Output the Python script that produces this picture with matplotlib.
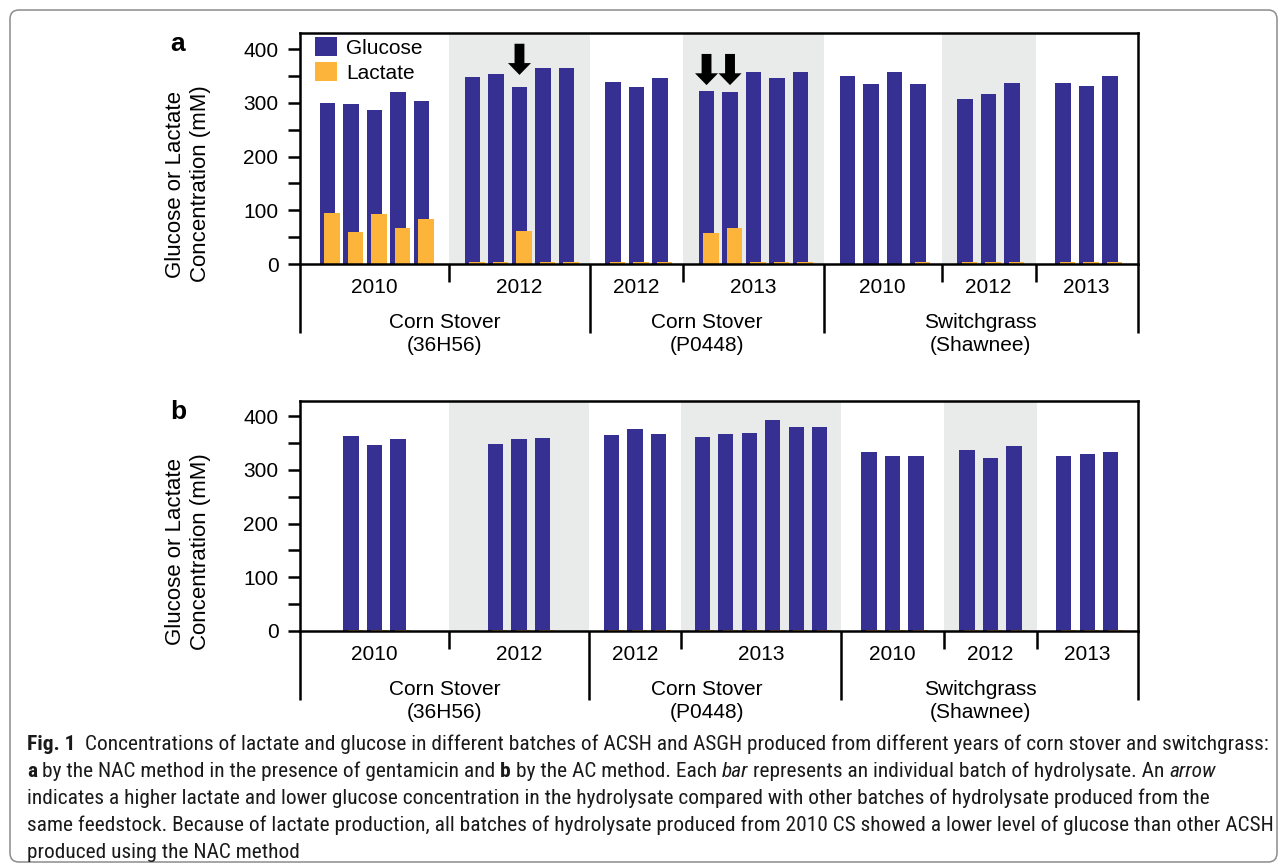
import matplotlib
matplotlib.use("Agg")
import matplotlib.pyplot as plt
import numpy as np
from matplotlib import font_manager as fm
from matplotlib.patches import FancyBboxPatch, FancyArrow
from matplotlib.transforms import blended_transform_factory, IdentityTransform
from matplotlib.lines import Line2D

# ---------------------------------------------------------------- data
year_labels = ["2010", "2012", "2012", "2013", "2010", "2012", "2013"]
feedstock_labels = ["Corn Stover\n(36H56)", "Corn Stover\n(P0448)", "Switchgrass\n(Shawnee)"]
years_per_feedstock = [2, 2, 3]

# (a) NAC method with gentamicin: batches per year group and concentrations (mM)
a_batches = [5, 5, 3, 5, 4, 3, 3]
a_glucose = [300, 297, 287, 320, 303,
             348, 353, 329, 365, 365,
             339, 329, 347,
             322, 320, 357, 346, 357,
             350, 335, 357, 335,
             307, 316, 337,
             337, 331, 350]
a_lactate = [95, 60, 93, 67, 84,
             3, 3, 61, 3, 3,
             4, 3, 3,
             58, 67, 3, 3, 3,
             0.5, 0.5, 0.5, 3,
             3, 3, 3,
             3, 3, 3]
a_arrow_batches = [7, 13, 14]

# (b) AC method
b_batches = [3, 3, 3, 6, 3, 3, 3]
b_glucose = [363, 346, 357,
             348, 357, 359,
             365, 376, 367,
             361, 367, 368, 393, 380, 380,
             333, 326, 326,
             337, 322, 344,
             326, 330, 333]
b_lactate = [2.5] * 24

# ---------------------------------------------------------------- style
W, H, DPI = 1285, 868, 100
GLUCOSE = "#363092"
LACTATE = "#FDB43A"
SHADE = "#E9EBEA"
LW = 1.8
FS = 15

plt.rcParams["font.family"] = ["Liberation Sans", "DejaVu Sans"]

fig = plt.figure(figsize=(W / DPI, H / DPI), dpi=DPI)


def fy(y):
    return 1 - y / H


# rounded frame around the whole figure
fig.patches.append(FancyBboxPatch((10, H - 862), 1267, 852,
                                  boxstyle="round,pad=0,rounding_size=9",
                                  transform=IdentityTransform(),
                                  fc="none", ec="#8c8c8c", lw=1.1))

AX_LEFT, AX_RIGHT = 300, 1137.5
REGIONS_A = [6.34, 6.0, 3.96, 6.0, 5.0, 4.0, 4.34]
REGIONS_B = [6.34, 5.96, 3.91, 6.81, 4.38, 3.96, 4.28]
bounds_a = np.concatenate([[0], np.cumsum(REGIONS_A)])


def draw_panel(top, base, ymax, batches, glucose, lactate, regions, letter):
    ax = fig.add_axes([AX_LEFT / W, fy(base), (AX_RIGHT - AX_LEFT) / W, (base - top) / H])
    bounds = np.concatenate([[0], np.cumsum(regions)])
    xmax = bounds[-1]
    ax.set_xlim(0, xmax)
    ax.set_ylim(0, ymax)
    h_px = base - top

    for i in (1, 3, 5):
        ax.axvspan(bounds[i], bounds[i + 1], color=SHADE, lw=0, zorder=0)

    xs = []
    for g, n in enumerate(batches):
        c = (bounds[g] + bounds[g + 1]) / 2
        xs.extend(c + (np.arange(n) - (n - 1) / 2))
    xs = np.array(xs)
    gb = ax.bar(xs, glucose, width=0.65, color=GLUCOSE, lw=0, zorder=2, label="Glucose")
    lb = ax.bar(xs + 0.19, lactate, width=0.65, color=LACTATE, lw=0, zorder=3, label="Lactate")

    for s in ax.spines.values():
        s.set_linewidth(LW)
        s.set_zorder(5)
    ax.set_xticks([])
    ax.set_yticks([0, 100, 200, 300, 400])
    ax.set_yticks([50, 150, 250, 350], minor=True)
    ax.tick_params(axis="y", which="both", direction="out", length=8.5, width=LW,
                   labelsize=FS, pad=7)

    # category band below the axis
    short = -18 / h_px
    long_ = -69 / h_px
    tr = ax.get_xaxis_transform()
    long_idx = set(np.cumsum(years_per_feedstock)[:-1])
    for k in range(1, len(bounds) - 1):
        y1 = long_ if k in long_idx else short
        ax.add_line(Line2D([bounds[k], bounds[k]], [0, y1], transform=tr,
                           color="black", lw=LW, clip_on=False, solid_capstyle="butt"))
    for xe in (0, xmax):
        ax.add_line(Line2D([xe, xe], [0, long_], transform=tr,
                           color="black", lw=LW, clip_on=False, solid_capstyle="butt"))

    ttr = blended_transform_factory(ax.transData, fig.transFigure)
    for g, lab in enumerate(year_labels):
        c = (bounds[g] + bounds[g + 1]) / 2
        fig.text(c, fy(base + 29), lab, transform=ttr, ha="center", va="baseline", fontsize=FS)
    # feedstock names sit at the same place in both panels
    edges = np.concatenate([[0], np.cumsum(years_per_feedstock)])
    for f, lab in enumerate(feedstock_labels):
        c = (bounds_a[edges[f]] + bounds_a[edges[f + 1]]) / 2
        l1, l2 = lab.split("\n")
        fig.text(c, fy(base + 64), l1, transform=ttr, ha="center", va="baseline", fontsize=FS)
        fig.text(c, fy(base + 87), l2, transform=ttr, ha="center", va="baseline", fontsize=FS)

    fig.text(188 / W, fy(top + (base + 69 - top) / 2 + 1),
             "Glucose or Lactate\nConcentration (mM)", rotation=90,
             ha="center", va="center", fontsize=16, linespacing=1.22)
    fig.text(170 / W, fy(top + 18), letter, fontsize=19, fontweight="bold",
             ha="left", va="baseline")
    return ax, xs, gb, lb


ax_a, xs_a, gb, lb = draw_panel(33, 264, 430, a_batches, a_glucose, a_lactate, REGIONS_A, "a")
ax_b, xs_b, _, _ = draw_panel(401, 631, 428, b_batches, b_glucose, b_lactate, REGIONS_B, "b")

ax_a.legend(handles=[gb, lb], loc="upper left", bbox_to_anchor=(315 / W, fy(37)),
            bbox_transform=fig.transFigure, frameon=False, fontsize=FS,
            borderpad=0, borderaxespad=0, handlelength=1.06, handleheight=1.06,
            handletextpad=0.45, labelspacing=0.2)

# arrows marking batches with high lactate
arrow_tips = [352, 333, 333]
for idx, tip in zip(a_arrow_batches, arrow_tips):
    ax_a.add_patch(FancyArrow(xs_a[idx], tip + 58, 0, -58, width=0.42, head_width=0.98,
                              head_length=22, length_includes_head=True,
                              color="black", lw=0, zorder=4))

# ---------------------------------------------------------------- caption
# prefer a condensed sans for the caption when one is installed
cap_family, cap_stretch = "Liberation Sans", "normal"
_pref = ["Roboto Condensed", "Open Sans Condensed", "Liberation Sans Narrow",
         "DejaVu Sans Condensed", "DejaVu Sans"]
_cands = [f for f in fm.fontManager.ttflist
          if ("condensed" in f.fname.lower() or "narrow" in f.fname.lower())
          and f.style == "normal" and f.weight in (400, "normal", "regular")]
_cands.sort(key=lambda f: _pref.index(f.name) if f.name in _pref else len(_pref))
if _cands:
    cap_family, cap_stretch = _cands[0].name, _cands[0].stretch

caption = [
    [("Fig. 1", "bold", "normal", 2.0),
     ("Concentrations of lactate and glucose in different batches of ACSH and ASGH produced from different years of corn stover and switchgrass:", "normal", "normal", 1)],
    [("a", "bold", "normal", 1),
     ("by the NAC method in the presence of gentamicin and", "normal", "normal", 1),
     ("b", "bold", "normal", 1),
     ("by the AC method. Each", "normal", "normal", 1),
     ("bar", "normal", "italic", 1),
     ("represents an individual batch of hydrolysate. An", "normal", "normal", 1),
     ("arrow", "normal", "italic", 1)],
    [("indicates a higher lactate and lower glucose concentration in the hydrolysate compared with other batches of hydrolysate produced from the", "normal", "normal", 1)],
    [("same feedstock. Because of lactate production, all batches of hydrolysate produced from 2010 CS showed a lower level of glucose than other ACSH", "normal", "normal", 1)],
    [("produced using the NAC method", "normal", "normal", 1)],
]
cap_x0 = 27
cap_right = 1268
cap_baselines = [750, 777, 804, 831, 858]

renderer = fig.canvas.get_renderer()


def cap_text(x, y, s, size, weight="normal", style="normal", **kw):
    return fig.text(x, y, s, fontsize=size, fontweight=weight, fontstyle=style,
                    family=cap_family, fontstretch=cap_stretch, **kw)


def text_width(s, size, weight="normal", style="normal"):
    t = cap_text(0, 0, s, size, weight, style)
    w = t.get_window_extent(renderer).width
    t.remove()
    return w


def line_width(runs, size):
    sp = text_width("n n", size) - text_width("nn", size)
    total = 0
    for i, (s, wgt, sty, gap) in enumerate(runs):
        total += text_width(s, size, wgt, sty)
        if i < len(runs) - 1:
            total += sp * gap
    return total


base_size = 12
cap_size = base_size * (cap_right - cap_x0) / line_width(caption[0], base_size)
space = text_width("n n", cap_size) - text_width("nn", cap_size)
for runs, yb in zip(caption, cap_baselines):
    x = cap_x0
    for i, (s, wgt, sty, gap) in enumerate(runs):
        t = cap_text(x / W, fy(yb), s, cap_size, wgt, sty,
                     ha="left", va="baseline", color="#1a1a1a")
        x += t.get_window_extent(renderer).width + space * gap

fig.savefig("out.png", dpi=DPI)
